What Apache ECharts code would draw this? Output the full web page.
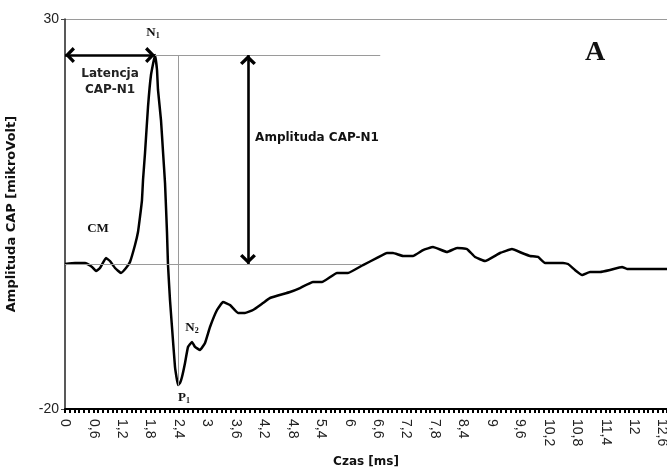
<!DOCTYPE html>
<html>
<head>
<meta charset="utf-8">
<style>html,body{margin:0;padding:0;background:#fff;}#c{width:667px;height:472px;}</style>
<script src="https://cdn.jsdelivr.net/npm/echarts@6/dist/echarts.min.js"></script>
</head>
<body>
<div id="c"></div>
<script>
// ---- data (time in ms, amplitude in microvolt) ----
const timeMs = [0,0.211,0.422,0.570,0.654,0.738,0.865,0.949,1.055,1.181,1.287,1.371,1.477,1.540,1.582,1.624,1.646,1.688,1.751,1.814,1.899,1.941,1.962,2.025,2.068,2.110,2.152,2.173,2.215,2.257,2.321,2.384,2.426,2.468,2.532,2.595,2.679,2.743,2.848,2.954,3.059,3.207,3.333,3.481,3.650,3.797,3.966,4.177,4.325,4.747,4.958,5.232,5.422,5.738,5.970,6.287,6.582,6.793,6.920,7.131,7.342,7.553,7.764,8.059,8.270,8.481,8.650,8.861,9.177,9.430,9.641,9.810,9.979,10.127,10.506,10.612,10.759,10.907,11.076,11.287,11.498,11.751,11.857,12.236,12.700];
const amplitude = [-1.41,-1.28,-1.28,-1.79,-2.31,-1.92,-0.64,-1.03,-1.92,-2.56,-1.92,-1.15,1.03,2.69,4.62,6.79,9.36,12.82,18.72,22.82,25.38,23.46,20.90,17.05,12.95,8.97,2.56,-1.54,-6.03,-9.49,-14.62,-16.92,-16.67,-15.90,-14.10,-12.05,-11.41,-12.05,-12.44,-11.54,-9.49,-7.31,-6.28,-6.67,-7.69,-7.69,-7.31,-6.41,-5.77,-5.00,-4.49,-3.72,-3.72,-2.56,-2.56,-1.54,-0.64,0.00,0.00,-0.38,-0.38,0.38,0.77,0.13,0.64,0.51,-0.51,-1.03,0.00,0.51,0.00,-0.38,-0.51,-1.28,-1.28,-1.41,-2.18,-2.82,-2.44,-2.44,-2.18,-1.79,-2.05,-2.05,-2.05];

// annotation geometry (data units)
const latencyArrow = [[0, 25.38], [1.899, 25.38]];
const amplitudeArrow = [[3.86, 25.38], [3.86, -1.41]];
const peakGuide = [[1.899, 25.38], [6.65, 25.38]];
const baselineGuide = [[0, -1.41], [6.25, -1.41]];
const verticalGuide = [[2.384, 25.38], [2.384, -17.0]];

const xTick = { min: 0, max: 12.7, interval: 0.6 };
const yTick = { min: -20, max: 30, interval: 50 };

const xAxisTitle = 'Czas [ms]';
const yAxisTitle = 'Amplituda CAP [mikroVolt]';

const chevron = 'path://M10,0 L20,10 L17,13 L10,6 L3,13 L0,10 Z';

function seg(p, style, symStart, symEnd, symSize) {
  return [
    { coord: p[0], symbol: symStart || 'none', symbolSize: symSize || [16, 10], lineStyle: style },
    { coord: p[1], symbol: symEnd || 'none', symbolSize: symSize || [16, 10] }
  ];
}
const gray = { color: '#9a9a9a', width: 1, type: 'solid' };
const blackArrow = { color: '#000', width: 2.6, type: 'solid' };

const chart = echarts.init(document.getElementById('c'), null, { renderer: 'canvas' });
chart.setOption({
  animation: false,
  backgroundColor: '#fff',
  grid: { left: 65, right: 0, top: 19, bottom: 63, outerBoundsMode: 'none', containLabel: false },
  xAxis: {
    type: 'value', min: xTick.min, max: xTick.max, interval: xTick.interval,
    name: xAxisTitle, nameLocation: 'middle', nameGap: 47,
    nameTextStyle: { fontFamily: 'DejaVu Sans', fontWeight: 'bold', fontSize: 12, color: '#111' },
    axisLine: { show: true, onZero: false, lineStyle: { color: '#000', width: 2 } },
    axisTick: { show: true, length: 4, lineStyle: { color: '#000', width: 2 } },
    minorTick: { show: true, splitNumber: 6, length: 4, lineStyle: { color: '#000', width: 2 } },
    splitLine: { show: false },
    axisLabel: {
      rotate: -90, margin: 10, fontFamily: 'Liberation Sans', fontSize: 14, color: '#222',
      showMaxLabel: false,
      formatter: v => String(Math.round(v * 10) / 10).replace('.', ',')
    }
  },
  yAxis: {
    type: 'value', min: yTick.min, max: yTick.max, interval: yTick.interval,
    name: yAxisTitle, nameLocation: 'middle', nameGap: 47,
    nameTextStyle: { fontFamily: 'DejaVu Sans', fontWeight: 'bold', fontSize: 13, color: '#111' },
    axisLine: { show: true, onZero: false, lineStyle: { color: '#222', width: 1.5 } },
    axisTick: { show: true, length: 4, lineStyle: { color: '#444', width: 1 } },
    splitLine: { show: true, lineStyle: { color: '#9a9a9a', width: 1 } },
    axisLabel: { margin: 6, fontFamily: 'Liberation Sans', fontSize: 14, color: '#222' }
  },
  series: [{
    type: 'line',
    data: timeMs.map((t, i) => [t, amplitude[i]]),
    showSymbol: false, symbol: 'none', smooth: 0.1,
    lineStyle: { color: '#000', width: 2.5 },
    z: 3,
    markLine: {
      silent: true, animation: false,
      symbolOffset: [[0, 5], [0, 5]],
      label: { show: false },
      emphasis: { disabled: true },
      itemStyle: { color: '#000' },
      data: [
        seg(peakGuide, gray),
        seg(baselineGuide, gray),
        seg(verticalGuide, gray),
        seg(latencyArrow, blackArrow, chevron, chevron),
        seg(amplitudeArrow, blackArrow, chevron, chevron)
      ]
    }
  }],
  graphic: [
    { type: 'text', x: 153, y: 33, style: { text: '{n|N}{s|1}', rich: { n: { font: 'bold 13px "Liberation Serif"', fill: '#111' }, s: { font: 'bold 8px "Liberation Serif"', fill: '#111', padding: [6, 0, 0, 0] } }, align: 'center', verticalAlign: 'middle' } },
    { type: 'text', x: 110, y: 74, style: { text: 'Latencja', font: 'bold 12px "DejaVu Sans"', fill: '#222', align: 'center', verticalAlign: 'middle' } },
    { type: 'text', x: 110, y: 90, style: { text: 'CAP-N1', font: 'bold 12px "DejaVu Sans"', fill: '#222', align: 'center', verticalAlign: 'middle' } },
    { type: 'text', x: 317, y: 138, style: { text: 'Amplituda CAP-N1', font: 'bold 12px "DejaVu Sans"', fill: '#111', align: 'center', verticalAlign: 'middle' } },
    { type: 'text', x: 595, y: 53, style: { text: 'A', font: 'bold 28px "Liberation Serif"', fill: '#111', align: 'center', verticalAlign: 'middle' } },
    { type: 'text', x: 98, y: 229, style: { text: 'CM', font: 'bold 13px "Liberation Serif"', fill: '#111', align: 'center', verticalAlign: 'middle' } },
    { type: 'text', x: 192, y: 328, style: { text: '{n|N}{s|2}', rich: { n: { font: 'bold 13px "Liberation Serif"', fill: '#111' }, s: { font: 'bold 8px "Liberation Serif"', fill: '#111', padding: [6, 0, 0, 0] } }, align: 'center', verticalAlign: 'middle' } },
    { type: 'text', x: 184, y: 398, style: { text: '{n|P}{s|1}', rich: { n: { font: 'bold 13px "Liberation Serif"', fill: '#111' }, s: { font: 'bold 8px "Liberation Serif"', fill: '#111', padding: [6, 0, 0, 0] } }, align: 'center', verticalAlign: 'middle' } }
  ]
});
</script>
</body>
</html>
